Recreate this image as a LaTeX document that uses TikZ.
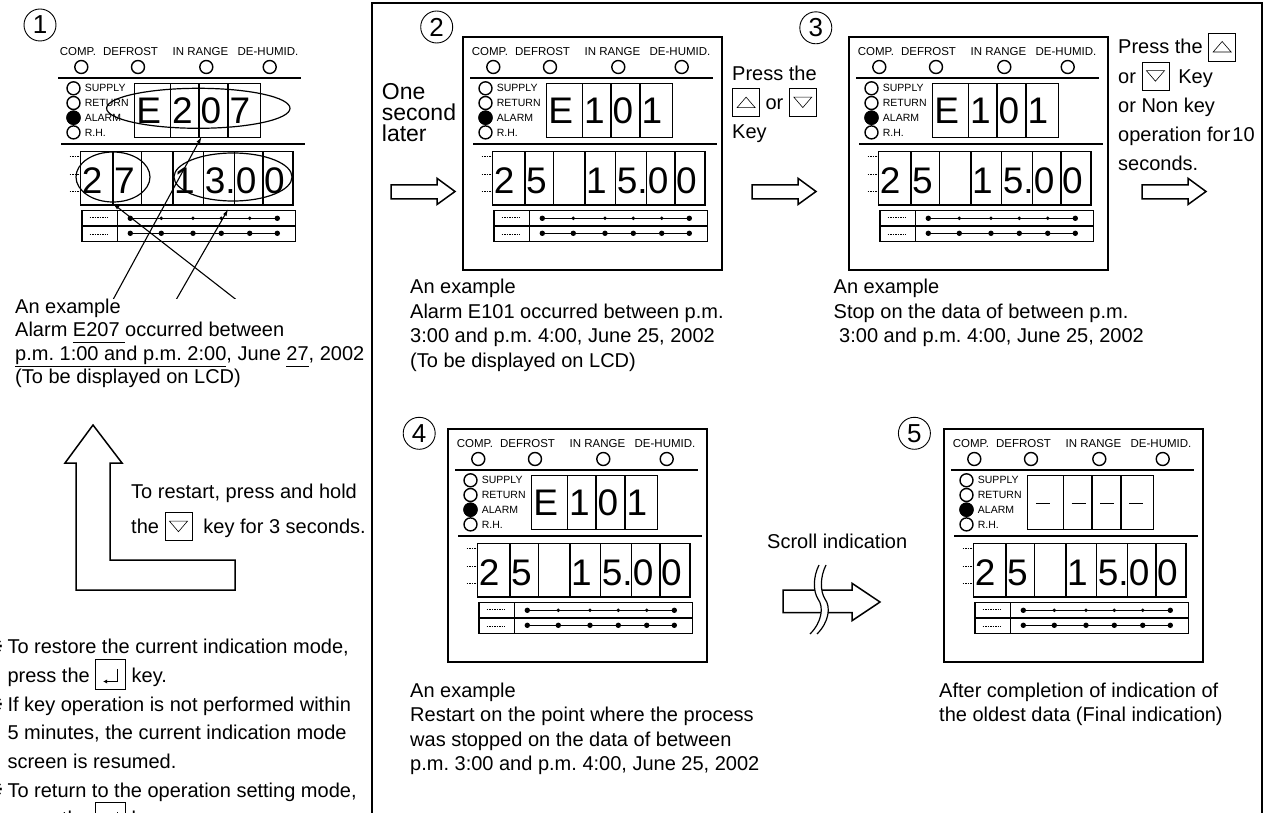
\documentclass[tikz,border=0pt]{standalone}
\usepackage{fontspec}
\setmainfont{Liberation Sans}
\newfontfamily\symfont{DejaVu Sans}
\usetikzlibrary{arrows.meta}
\frenchspacing

% key symbols used inside the texts
\newcommand{\upkey}{\tikz[x=1pt,y=1pt,baseline=7pt]{\draw[line width=0.8pt] (0,0) rectangle (27,28);
  \draw[line width=0.6pt] (4.5,9) -- (22.5,9) -- (13.5,19.5) -- cycle;}}
\newcommand{\downkey}{\tikz[x=1pt,y=1pt,baseline=7pt]{\draw[line width=0.8pt] (0,0) rectangle (27,28);
  \draw[line width=0.6pt] (4.5,19.5) -- (22.5,19.5) -- (13.5,9) -- cycle;}}
\newcommand{\retkey}{\tikz[x=1pt,y=1pt,baseline=6.6pt]{\draw[line width=0.8pt] (0,0) rectangle (30,30);
  \draw[line width=1.2pt,-{Latex[length=4pt,width=4.5pt]}] (21.7,20) -- (21.7,7.5) -- (7.5,7.5);}}
\newcommand{\lcddash}{\hspace*{6.5pt}\rule[11.2pt]{14pt}{1.6pt}}

\begin{document}
\begin{tikzpicture}[x=1pt,y=-1pt, every node/.style={inner sep=0pt},
  txt/.style={font=\fontsize{20}{24.5}\selectfont,align=left,anchor=north west},
  hdr/.style={font=\fontsize{11.5}{12}\selectfont},
  side/.style={font=\fontsize{10.5}{11}\selectfont,anchor=west},
  digit/.style={font=\fontsize{37}{37}\selectfont,anchor=base west},
  numc/.style={draw,circle,line width=0.9pt,minimum size=32pt,font=\fontsize{26}{26}\selectfont},
  lcdframe/.style={line width=1.8pt},
  rule/.style={line width=2pt},
  cell/.style={line width=1.5pt},
  lamp/.style={line width=1.4pt},
  fine/.style={line width=0.5pt,dash pattern=on 1.5pt off 1pt},
  ring/.style={line width=1.2pt},
  pointer/.style={line width=1.1pt,-{Latex[length=7pt,width=4pt]}},
  hollow/.style={line width=1.5pt,fill=white}]
\useasboundingbox (0,0) rectangle (1266,813);

% frame round steps 2 to 5
\draw[line width=2pt] (372,830) -- (372,3) -- (1262,3) -- (1262,830);

% the five LCD screens
\foreach \n/\ox/\oy/\fr/\nx/\ny/\tch/\bch in {
  1/51/37/0/40/25/{E,2,0,7}/{2,7,{},1,3.,0,0},
  2/463/37/1/436.7/27/{E,1,0,1}/{2,5,{},1,5.,0,0},
  3/849/37/1/815.8/27.8/{E,1,0,1}/{2,5,{},1,5.,0,0},
  4/448/429/1/419.2/433.3/{E,1,0,1}/{2,5,{},1,5.,0,0},
  5/944/429/1/914.4/433.3/{\lcddash,\lcddash,\lcddash,\lcddash}/{2,5,{},1,5.,0,0}}
{
  \node[numc] (num\n) at (\nx,\ny) {\n};
  \begin{scope}[shift={(\ox,\oy)}]
    \ifnum\fr=1 \draw[lcdframe] (0,0) rectangle (259,233); \fi
    \foreach \w/\wx/\lx in {COMP./27/30.3,DEFROST/79.5/87,IN RANGE/149.5/155.3,DE-HUMID./217/218.7} {
      \node[hdr] at (\wx,14.3) {\w};
      \draw[lamp] (\lx,30) circle[radius=6.5];
    }
    \draw[rule] (7,41.3) -- (250.3,41.3) (10.3,107) -- (253.7,107);
    \foreach \s [count=\k] in {SUPPLY,RETURN,ALARM,R.H.} {
      \draw[lamp] (22.5,36.6+14.7*\k) circle[radius=6.5];
      \node[side] at (33.7,36.6+14.7*\k) {\s};
    }
    \fill (22.5,80.7) circle[radius=7.2];
    % upper display
    \draw[cell] (83.7,46.3) rectangle (209.7,100.3);
    \foreach \dv in {119.3,148,177} \draw[cell] (\dv,46.3) -- (\dv,100.3);
    \foreach \ch [count=\k] in \tch {
      \pgfmathsetmacro{\cx}{{83.7,119.3,148,177}[\k-1]}
      \node[digit] at (\cx+1.5,86.3) {\ch};
    }
    % lower display
    \draw[cell] (29.7,114.7) rectangle (242,168);
    \foreach \dv in {62,90.3,122,152.7,183.7,212} \draw[cell] (\dv,114.7) -- (\dv,168);
    \foreach \ch [count=\k] in \bch {
      \pgfmathsetmacro{\cx}{{29.7,62,90.3,122,152.7,183.7,212}[\k-1]}
      \node[digit] at (\cx+1,156.3) {\ch};
    }
    \foreach \y in {119.7,137,154.7} \draw[fine] (18.7,\y) -- (29.7,\y);
    % bar rows
    \draw[line width=1.4pt] (31,173.7) rectangle (244.3,204.7) (31,189) -- (244.3,189) (66.3,173.7) -- (66.3,204.7);
    \foreach \y in {180.5,197} \draw[fine] (38.7,\y) -- (57,\y);
    \foreach \y/\r in {181.3/1.9,196.3/2.7} {
      \draw[line width=1.1pt] (79.3,\y) -- (226.3,\y);
      \foreach \dx in {79.3,110.3,142,170.3,198.7,226.3} \fill (\dx,\y) circle[radius=\r];
    }
    \fill (79.3,181.3) circle[radius=2.7] (226.3,181.3) circle[radius=2.7];
  \end{scope}
}

% step 1: marked fields and their pointers
\draw[ring] (198.3,108.3) ellipse[x radius=91.7,y radius=20];
\draw[ring] (113,177) ellipse[x radius=37,y radius=25];
\draw[ring] (233,177) ellipse[x radius=59,y radius=24];
\coordinate (fromE) at (102,320);
\coordinate (toE) at (201.7,136.5);
\coordinate (fromT) at (153,340);
\coordinate (toT) at (228.3,209);
\coordinate (fromD) at (288,340);
\coordinate (toD) at (112.7,203.5);
\draw[pointer] (fromE) -- (toE);
\draw[pointer] (fromT) -- (toT);
\draw[pointer] (fromD) -- (toD);
\node[txt,fill=white,font=\fontsize{20}{23.3}\selectfont] (cap1) at (15,299)
  {An example\\Alarm \underline{E207\ \vphantom{p}}occurred between\\\underline{p.m. 1:00 and p.m. 2:00}, June \underline{27\vphantom{p}}, 2002\\(To be displayed on LCD)};

% back arrow and notes
\draw[line width=1.5pt] (93,425) -- (122,463) -- (110,463) -- (110,560) -- (235,560) -- (235,590)
  -- (76,590) -- (76,463) -- (65,463) -- cycle;
\node[txt,font=\fontsize{20}{35}\selectfont] (restart) at (131,484)
  {To restart, press and hold\\the \downkey\ \ key for 3 seconds.};
\node[txt,font=\fontsize{20}{28.7}\selectfont] (notes) at (7.3,639)
  {To restore the current indication mode,\\press the \retkey\ key.\\If key operation is not performed within\\5 minutes, the current indication mode\\screen is resumed.\\To return to the operation setting mode,\\press the \retkey\ key.};
\foreach \y in {653.3,711.7,796.7}
  \node[anchor=base east,font=\symfont\fontsize{20}{20}\selectfont] at (4,\y) {※};

% steps 2 and 3
\foreach \ax in {391,752,1142}
  \draw[hollow] (\ax,185) -- (\ax+46,185) -- (\ax+46,178.3) -- (\ax+64,191.5) -- (\ax+46,204.5)
    -- (\ax+46,199) -- (\ax,199) -- cycle;
\node[txt,font=\fontsize{23}{21}\selectfont] (later) at (381.7,83.5) {One\\second\\later};
\node[txt,font=\fontsize{20}{29.2}\selectfont] (press2) at (732,65.7) {Press the\\\upkey\ or \downkey\\Key};
\node[txt,font=\fontsize{20}{29.2}\selectfont] (press3) at (1118,32.4)
  {Press the \upkey\\or \downkey\hspace{9pt}Key\\or Non key\\operation for\hspace{2pt}10\\seconds.};
\node[txt] (cap2) at (410,279)
  {An example\\Alarm E101 occurred between p.m.\\3:00 and p.m. 4:00, June 25, 2002\\(To be displayed on LCD)};
\node[txt] (cap3) at (833.5,279)
  {An example\\Stop on the data of between p.m.\\\hspace*{5.5pt}3:00 and p.m. 4:00, June 25, 2002};

% steps 4 and 5
\node[txt] (cap4) at (410,682.4)
  {An example\\Restart on the point where the process\\was stopped on the data of between\\p.m. 3:00 and p.m. 4:00, June 25, 2002};
\node[txt] (cap5) at (939,682.4)
  {After completion of indication of\\the oldest data (Final indication)};
\node[anchor=base west,font=\fontsize{20}{24}\selectfont] (scroll) at (767,548.3) {Scroll indication};
\draw[hollow] (783,590) -- (852,590) -- (852,583.3) -- (880,602) -- (852,620.7) -- (852,612.7)
  -- (783,612.7) -- cycle;
\fill[white] (819,565) .. controls (813,577) and (813,591) .. (818,599) .. controls (824,607) and (822,622) .. (810,634)
  -- (817,634) .. controls (829,622) and (831,607) .. (825,599) .. controls (820,591) and (820,577) .. (826,565) -- cycle;
\draw[line width=1.2pt] (819,565) .. controls (813,577) and (813,591) .. (818,599) .. controls (824,607) and (822,622) .. (810,634);
\draw[line width=1.2pt] (826,565) .. controls (820,577) and (820,591) .. (825,599) .. controls (831,607) and (829,622) .. (817,634);
\end{tikzpicture}
\end{document}
